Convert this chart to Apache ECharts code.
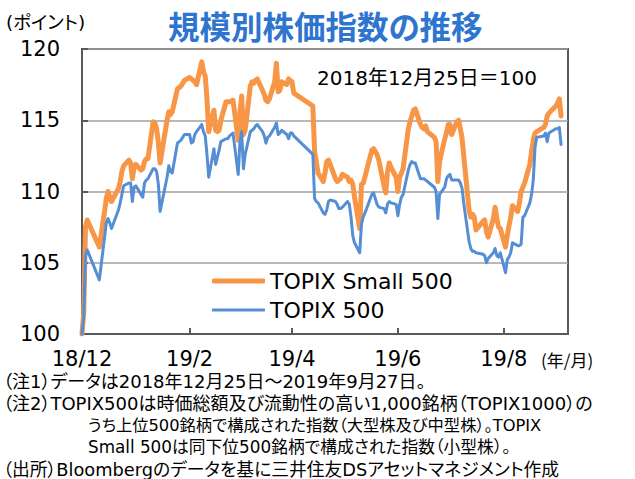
<!DOCTYPE html>
<html>
<head>
<meta charset="utf-8">
<script src="https://cdn.jsdelivr.net/npm/echarts@6/dist/echarts.min.js"></script>
<style>
  html, body { margin: 0; padding: 0; background: #fff; }
  #chart { width: 635px; height: 479px; }
  #chart text { font-feature-settings: "palt" 1 !important; }
</style>
</head>
<body>
<div id="chart"></div>
<script>
// trading days, Tokyo: 2018/12/25 .. 2019/9/27
const startDate = '2018-12-25';
const endDate = '2019-09-27';
const holidays = ['2018-12-31', '2019-01-01', '2019-01-02', '2019-01-03', '2019-01-14',
  '2019-02-11', '2019-03-21', '2019-04-29', '2019-04-30', '2019-05-01', '2019-05-02',
  '2019-05-03', '2019-05-06', '2019-07-15', '2019-08-12', '2019-09-16', '2019-09-23'];

const tickDates = ['2018-12-25', '2019-02-25', '2019-04-25', '2019-06-25', '2019-08-25'];
const tickLabels = ['18/12', '19/2', '19/4', '19/6', '19/8'];

// TOPIX Small 500 (2018/12/25 = 100), one value per trading day
const small500 = [
  100, 101.5, 107.5, 108.0,
  106.1, 108.6, 109.5, 110.0, 109.6, 109.3, 110.2, 110.7, 111.4, 111.8, 112.2, 112.0, 110.9, 111.7, 111.9, 111.5, 111.6, 112.1, 112.3,
  112.3, 114.9, 114.8, 114.4, 113.4, 112.0, 115.0, 115.6, 115.4, 115.6, 117.2, 117.3, 117.4, 117.6, 117.8, 118.0, 117.9, 117.8, 117.7,
  117.5, 119.1, 118.4, 118.1, 116.5, 114.2, 115.7, 114.3, 114.2, 114.3, 115.0, 116.3, 116.3, 116.3, 116.4, 113.6, 115.6, 116.7, 114.0, 114.3,
  117.4, 117.7, 117.6, 117.8, 117.9, 117.1, 116.8, 116.4, 116.3, 116.5, 117.7, 119.0, 117.0, 117.1, 117.7, 117.5, 117.9, 117.8, 117.7, 116.9,
  116.0, 112.8, 112.1, 111.3, 110.7, 111.3, 112.1, 112.2, 111.9, 110.9, 110.7, 110.8, 110.9, 111.2, 111.0, 110.7, 110.8, 110.5, 109.6,
  107.4, 110.5, 110.6, 111.0, 111.5, 112.9, 113.0, 112.8, 112.6, 112.2, 110.4, 109.9, 111.4, 112.0, 111.7, 111.0, 110.0, 111.0, 111.3, 111.6,
  114.4, 114.9, 115.3, 115.7, 115.8, 114.7, 114.5, 114.4, 114.6, 114.2, 113.8, 113.5, 110.7, 112.1, 113.7, 114.1, 114.7, 114.7, 114.0, 114.9, 115.0, 114.4,
  113.7, 112.4, 108.7, 108.2, 108.4, 108.2, 107.3, 107.9, 108.0, 107.2, 106.8, 108.1, 108.9, 108.1, 107.5, 107.4, 106.1, 106.9, 107.6, 108.2, 109.0,
  108.6, 109.2, 110.0, 110.3, 110.6, 111.9, 112.8, 113.6, 114.1, 114.2, 114.5, 114.7, 115.3, 115.5, 116.0, 116.2, 116.5, 115.3
];

// TOPIX 500 (2018/12/25 = 100)
const topix500 = [
  100, 101.2, 105.5, 105.9,
  103.8, 106.8, 107.8, 108.1, 107.8, 107.4, 108.7, 109.2, 109.8, 110.4, 110.6, 110.6, 109.3, 110.3, 110.4, 109.8, 109.6, 110.6, 110.8,
  110.9, 111.6, 111.6, 111.4, 110.5, 108.6, 111.0, 111.8, 111.4, 111.3, 113.4, 113.5, 113.6, 113.8, 114.0, 114.0, 113.4, 113.5, 114.0,
  114.2, 114.7, 114.2, 113.9, 112.6, 111.0, 113.0, 111.9, 112.4, 112.9, 113.5, 113.7, 113.7, 113.9, 114.1, 111.2, 113.5, 114.2, 111.6, 112.6,
  114.2, 114.3, 114.4, 114.6, 114.7, 114.2, 113.9, 113.4, 113.8, 113.9, 114.5, 114.8, 114.0, 114.1, 114.3, 114.0, 113.7, 114.1, 114.1, 113.9,
  112.6, 109.5, 109.3, 109.2, 108.5, 108.4, 108.7, 109.3, 109.4, 109.3, 109.1, 108.8, 108.8, 108.9, 109.3, 109.1, 108.2, 106.9, 106.4,
  105.7, 107.7, 108.2, 108.5, 108.8, 109.8, 109.9, 109.5, 109.1, 108.9, 108.8, 108.5, 109.1, 109.3, 109.2, 109.1, 108.3, 109.1, 109.6, 109.8,
  111.5, 111.9, 112.1, 112.0, 112.0, 110.9, 110.9, 110.9, 110.8, 110.7, 110.3, 110.0, 108.1, 109.8, 110.3, 110.9, 111.1, 111.2, 110.8, 110.8, 110.8, 110.6,
  110.2, 109.1, 106.5, 106.0, 105.8, 105.8, 105.7, 105.6, 105.5, 105.0, 105.3, 105.7, 106.0, 105.5, 105.4, 105.7, 104.3, 105.2, 105.4, 105.7, 106.4,
  106.2, 106.2, 106.3, 108.2, 108.3, 109.2, 109.8, 110.8, 113.1, 113.8, 113.9, 114.1, 113.5, 114.1, 114.4, 114.4, 114.5, 113.3
];

const DAY = 86400000;
function toUTC(s) {
  const p = s.split('-');
  return Date.UTC(+p[0], +p[1] - 1, +p[2]);
}
const t0 = toUTC(startDate);

// day offsets of the trading days
const days = [];
for (let t = t0; t <= toUTC(endDate); t += DAY) {
  const d = new Date(t);
  const wd = d.getUTCDay();
  const iso = d.toISOString().slice(0, 10);
  if (wd === 0 || wd === 6 || holidays.indexOf(iso) >= 0) continue;
  days.push((t - t0) / DAY);
}
const tickDays = tickDates.map(s => (toUTC(s) - t0) / DAY);

const latin = 'DejaVu Sans';
const jp = '"Noto Sans CJK JP"';
const mixed = '"DejaVu Sans", "Noto Sans CJK JP"';

function label(x, y, text, size, family) {
  return {type: 'text', x: x, y: y, style: {text: text, font: size + 'px ' + (family || mixed), fill: '#000', lineHeight: size, verticalAlign: 'middle', textVerticalAlign: 'middle'}};
}

const chart = echarts.init(document.getElementById('chart'), null, {renderer: 'svg'});
const option = {
  animation: false,
  backgroundColor: '#fff',
  title: {
    text: '規模別株価指数の推移',
    left: 168,
    top: 9,
    padding: 0,
    textStyle: {fontFamily: jp, fontSize: 31.5, fontWeight: 'bold', color: '#2E75CF'}
  },
  legend: [
    {
      left: 212, top: 270, padding: 0, itemWidth: 53, itemHeight: 5, icon: 'roundRect',
      data: ['TOPIX Small 500'],
      textStyle: {fontFamily: latin, fontSize: 22, color: '#000', lineHeight: 22}
    },
    {
      left: 212, top: 299, padding: 0, itemWidth: 53, itemHeight: 3, icon: 'roundRect',
      data: ['TOPIX 500'],
      textStyle: {fontFamily: latin, fontSize: 22, color: '#000', lineHeight: 22}
    }
  ],
  grid: {
    left: 82, top: 49, width: 486, height: 285,
    show: true, borderColor: '#595959', borderWidth: 2
  },
  xAxis: {
    type: 'value',
    min: 0,
    max: 280,
    axisLine: {lineStyle: {color: '#595959', width: 2}},
    axisTick: {inside: true, length: 6, customValues: tickDays, lineStyle: {color: '#595959', width: 2}},
    axisLabel: {
      customValues: tickDays,
      formatter: v => tickLabels[tickDays.indexOf(v)],
      margin: 17,
      lineHeight: 16,
      fontFamily: latin, fontSize: 21, color: '#000'
    },
    splitLine: {show: false}
  },
  yAxis: {
    type: 'value',
    min: 100,
    max: 120,
    interval: 5,
    axisLine: {show: true, lineStyle: {color: '#595959', width: 2}},
    axisTick: {show: true, inside: true, length: 6, lineStyle: {color: '#595959', width: 2}},
    axisLabel: {margin: 22, fontFamily: latin, fontSize: 21, color: '#000'},
    splitLine: {lineStyle: {color: '#A0A0A0', width: 1.5}}
  },
  series: [
    {
      name: 'TOPIX Small 500',
      type: 'line',
      showSymbol: false,
      symbol: 'none',
      color: '#F79646',
      lineStyle: {width: 5, color: '#F79646', cap: 'round', join: 'round'},
      data: days.map((d, i) => [d, small500[i]])
    },
    {
      name: 'TOPIX 500',
      type: 'line',
      showSymbol: false,
      symbol: 'none',
      color: '#558ED5',
      lineStyle: {width: 3, color: '#558ED5', cap: 'round', join: 'round'},
      data: days.map((d, i) => [d, topix500[i]])
    }
  ],
  graphic: [
    label(6, 22, '(ポイント)', 18.5),
    label(317, 78, '2018年12月25日＝100', 20),
    label(541, 359, '(年/月)', 17, jp),
    label(3, 381, '（注1）データは2018年12月25日～2019年9月27日。', 18),
    label(3, 403, '（注2）TOPIX500は時価総額及び流動性の高い1,000銘柄（TOPIX1000）の', 18),
    label(88, 425, 'うち上位500銘柄で構成された指数（大型株及び中型株）。TOPIX', 16.3),
    label(88, 447, 'Small 500は同下位500銘柄で構成された指数（小型株）。', 16.8),
    label(3, 469, '（出所）Bloombergのデータを基に三井住友DSアセットマネジメント作成', 17.8)
  ]
};
chart.setOption(option);
</script>
</body>
</html>
